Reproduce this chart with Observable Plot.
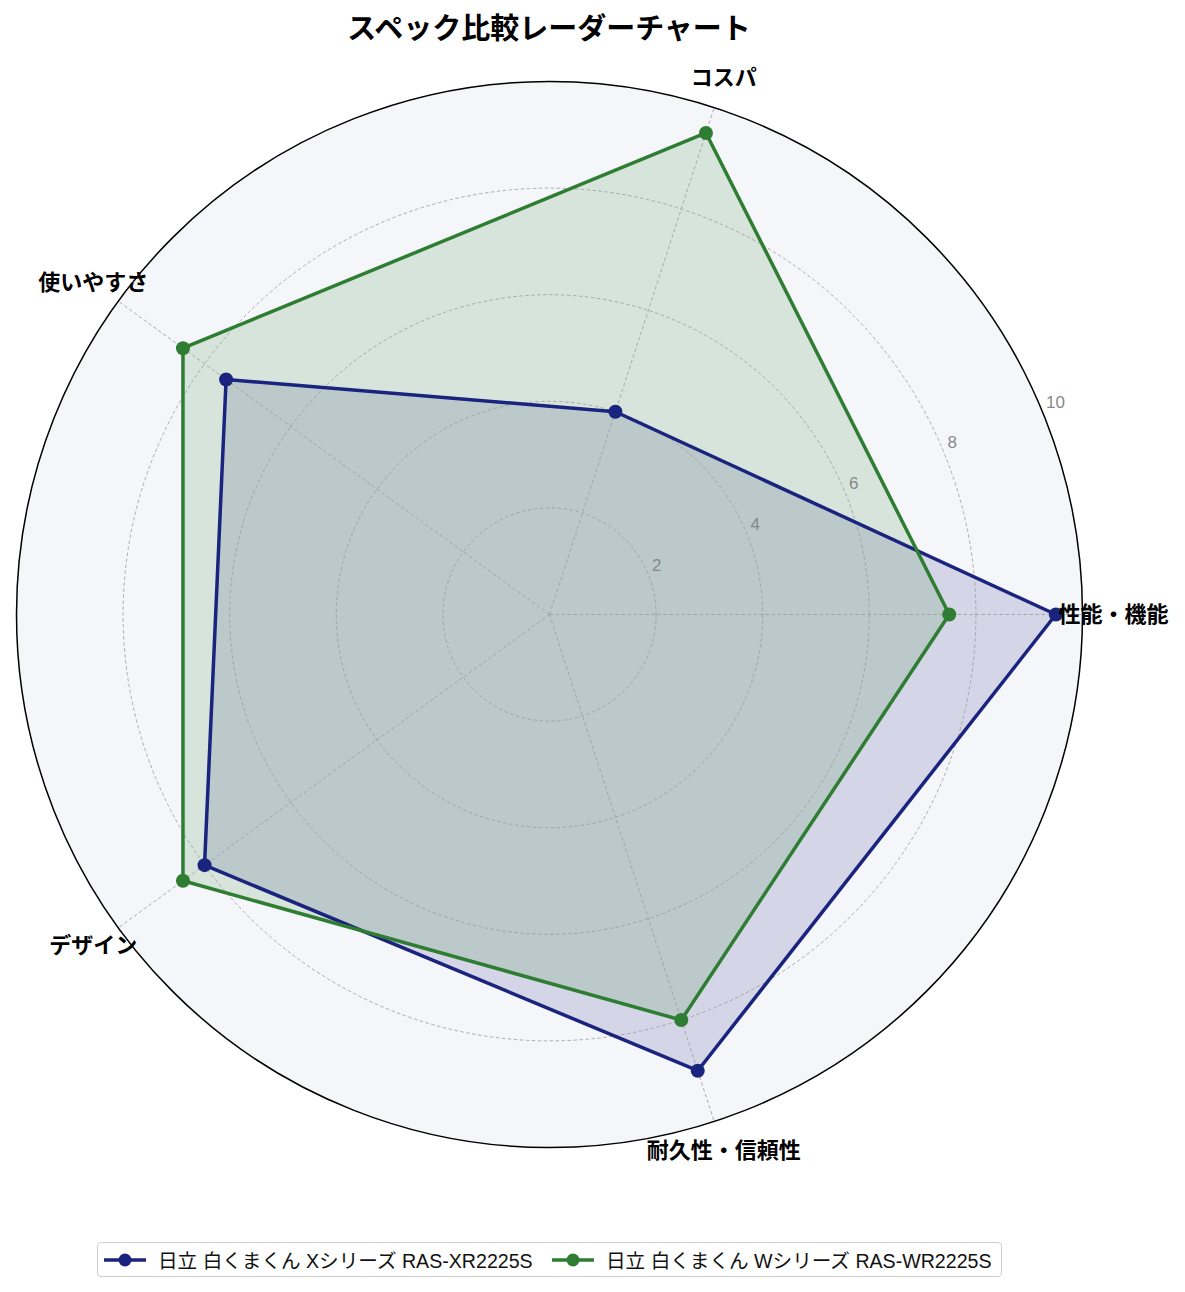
<!DOCTYPE html>
<html>
<head>
<meta charset="utf-8">
<script src="https://cdn.jsdelivr.net/npm/d3@7"></script>
<script src="https://cdn.jsdelivr.net/npm/@observablehq/plot@0.6"></script>
<style>
  html, body { margin: 0; padding: 0; background: #fff; }
  body { font-family: "Noto Sans CJK JP", "Noto Sans", sans-serif; }
  #wrap { position: relative; width: 1185px; height: 1292px; }
  #title { position: absolute; left: 0; width: 1098px; top: 5px; text-align: center;
           font-size: 29px; font-weight: bold; color: #000; }
  #legend { position: absolute; left: 97px; top: 1242px; width: 903px; height: 33px;
            border: 1px solid #cfcfcf; border-radius: 4px; background: #fff;
            display: flex; align-items: center; font-size: 19.6px; color: #111;
            font-family: "Liberation Sans", "Noto Sans CJK JP", sans-serif; white-space: nowrap; }
  .item { display: flex; align-items: center; }
  .item svg { margin-left: 6px; margin-right: 12px; }
  #chart { position: absolute; left: 0; top: 0; }
</style>
</head>
<body>
<div id="wrap">
  <div id="chart"></div>
  <div id="title"></div>
  <div id="legend"></div>
</div>
<script>
// ---- data ----
const titleText = "スペック比較レーダーチャート";
const axes = ["性能・機能", "コスパ", "使いやすさ", "デザイン", "耐久性・信頼性"];
const seriesNames = ["日立 白くまくん Xシリーズ RAS-XR2225S", "日立 白くまくん Wシリーズ RAS-WR2225S"];
const seriesXValues = [9.5, 4.0, 7.5, 8.0, 9.0];
const seriesWValues = [7.5, 9.5, 8.5, 8.5, 8.0];
const seriesColors = ["#1a237e", "#2e7d32"];
const rTicks = [2, 4, 6, 8, 10];
const rMax = 10;

// ---- build table ----
const allValues = [seriesXValues, seriesWValues];
const rows = seriesNames.flatMap((s, k) => axes.map((a, i) => ({series: s, axis: a, i, value: allValues[k][i]})));
const ang = i => i * 2 * Math.PI / axes.length;
const px = (r, i) => r * Math.cos(ang(i));
const py = (r, i) => r * Math.sin(ang(i));

// layout (pixels)
const W = 1185, H = 1292, cx = 549, cy = 614, R = 533;
const tickAngle = 22.5 * Math.PI / 180;
const labelR = 10.58;

const chart = Plot.plot({
  width: W, height: H,
  margin: 0,
  style: {fontFamily: "'Noto Sans CJK JP', 'Noto Sans', sans-serif", background: "transparent"},
  x: {domain: [-rMax, rMax], range: [cx - R, cx + R], axis: null},
  y: {domain: [-rMax, rMax], range: [cy + R, cy - R], axis: null},
  r: {type: "linear", domain: [0, rMax], range: [0, R]},
  color: {domain: seriesNames, range: seriesColors},
  marks: [
    // background disk
    Plot.dot([rMax], {x: 0, y: 0, r: d => d, fill: "#f5f6fa", stroke: "none"}),
    // series fills
    Plot.line(rows, {x: d => px(d.value, d.i), y: d => py(d.value, d.i), z: "series",
      fill: "series", fillOpacity: 0.15, stroke: "none", curve: "linear-closed"}),
    // grid circles
    Plot.dot(rTicks.filter(t => t < rMax), {x: 0, y: 0, r: d => d, fill: "none",
      stroke: "#9a9a9a", strokeWidth: 0.8, strokeDasharray: "3.5,2.5"}),
    // spokes
    Plot.link(axes, {x1: 0, y1: 0, x2: (d, i) => px(rMax, i), y2: (d, i) => py(rMax, i),
      stroke: "#9a9a9a", strokeWidth: 0.8, strokeDasharray: "3.5,2.5"}),
    // outer spine
    Plot.dot([rMax], {x: 0, y: 0, r: d => d, fill: "none", stroke: "#000", strokeWidth: 1.5}),
    // tick labels
    Plot.text(rTicks, {x: d => d * Math.cos(tickAngle), y: d => d * Math.sin(tickAngle),
      text: d => String(d), textAnchor: "start", lineAnchor: "bottom", dx: 4, dy: -3,
      fontSize: 17, fill: "#888", fontFamily: "'Liberation Sans', sans-serif"}),
    // series lines
    Plot.line(rows, {x: d => px(d.value, d.i), y: d => py(d.value, d.i), z: "series",
      stroke: "series", strokeWidth: 3.5, curve: "linear-closed"}),
    // dots
    Plot.dot(rows, {x: d => px(d.value, d.i), y: d => py(d.value, d.i), fill: "series", r: 7, stroke: "none"}),
    // axis labels
    Plot.text(axes, {x: (d, i) => px(labelR, i), y: (d, i) => py(labelR, i), text: d => d,
      fontSize: 22, fontWeight: "bold", fill: "#000", textAnchor: "middle", lineAnchor: "middle"})
  ]
});
document.getElementById("chart").appendChild(chart);

document.getElementById("title").textContent = titleText;
const legend = document.getElementById("legend");
seriesNames.forEach((s, k) => {
  const item = document.createElement("div");
  item.className = "item";
  if (k === 0) item.style.flex = "0 0 448px";
  item.innerHTML = `<svg width="42" height="16"><line x1="0" y1="8" x2="42" y2="8" stroke="${seriesColors[k]}" stroke-width="3.5"/><circle cx="21" cy="8" r="6.5" fill="${seriesColors[k]}"/></svg><span>${s}</span>`;
  legend.appendChild(item);
});
</script>
</body>
</html>
